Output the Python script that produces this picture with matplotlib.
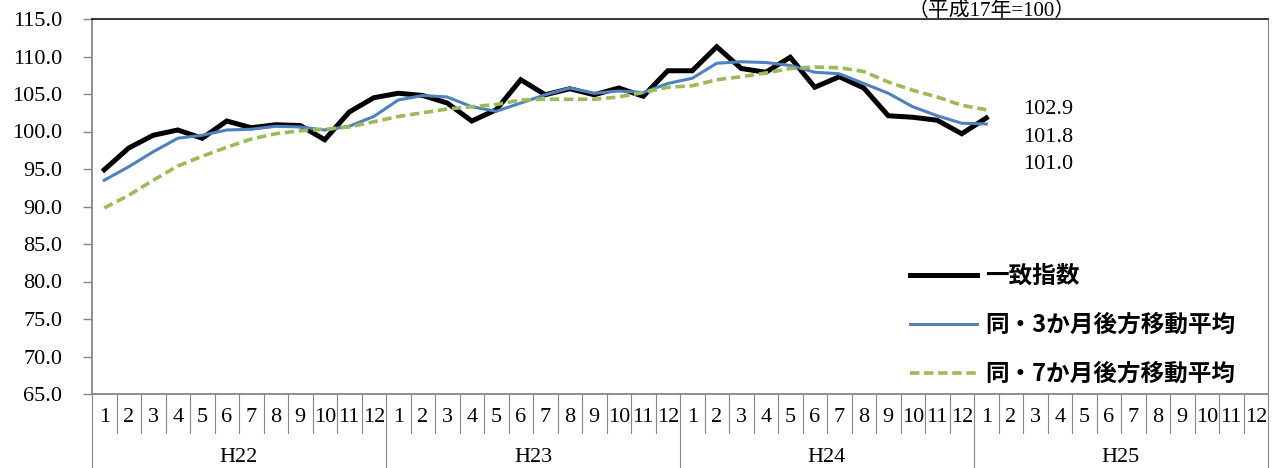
import matplotlib
matplotlib.use("Agg")
import matplotlib.pyplot as plt
import matplotlib.transforms as mtransforms

plt.rcParams['font.family'] = ['Liberation Serif', 'Noto Sans CJK JP']

# data (H22.1 - H25.1)
years = ["H22", "H23", "H24", "H25"]
months = [str(m) for m in range(1, 13)]
coincident = [94.9, 97.8, 99.5, 100.2, 99.1, 101.4, 100.5, 100.9, 100.8, 98.9, 102.6, 104.5,
              105.1, 104.8, 103.8, 101.4, 102.9, 106.9, 104.9, 105.7, 104.9, 105.8, 104.7, 108.1,
              108.1, 111.3, 108.4, 107.9, 109.9, 105.9, 107.3, 105.8, 102.1, 101.9, 101.5, 99.7,
              101.8]
ma3 = [93.5, 95.3, 97.3, 99.1, 99.5, 100.2, 100.3, 100.7, 100.6, 100.2, 100.7, 102.0,
       104.2, 104.8, 104.6, 103.3, 102.7, 103.8, 104.9, 105.8, 105.1, 105.4, 105.2, 106.4,
       107.1, 109.1, 109.3, 109.2, 108.8, 107.9, 107.7, 106.4, 105.1, 103.3, 102.1, 101.1,
       101.0]
ma7 = [89.8, 91.5, 93.5, 95.4, 96.7, 97.9, 99.0, 99.7, 100.1, 100.3, 100.6, 101.3,
       102.0, 102.5, 103.0, 103.3, 103.6, 104.2, 104.3, 104.3, 104.3, 104.6, 105.2, 105.9,
       106.1, 106.9, 107.3, 107.8, 108.4, 108.6, 108.5, 108.0, 106.6, 105.5, 104.6, 103.5,
       102.9]
labels = ["一致指数", "同・3か月後方移動平均", "同・7か月後方移動平均"]

W, H = 1273, 468
fig = plt.figure(figsize=(W / 100, H / 100), dpi=100)
ax = fig.add_axes([92 / W, (H - 394) / H, (1268 - 92) / W, 375 / H])

ncat = len(years) * len(months)
x = [i + 0.5 for i in range(len(coincident))]

l1, = ax.plot(x, coincident, color='black', lw=3.6, solid_joinstyle='miter', label=labels[0])
l2, = ax.plot(x, ma3, color='#4F81BD', lw=2.2, label=labels[1])
l3, = ax.plot(x, ma7, color='#9BBB59', lw=2.6, dashes=(2.6, 1.3), label=labels[2])

ax.set_xlim(0, ncat)
ax.set_ylim(65, 115)
ax.set_yticks([65 + 5 * k for k in range(11)])
ax.set_yticklabels(["%.1f" % (65 + 5 * k) for k in range(11)], fontsize=16)
ax.tick_params(axis='y', direction='out', length=6.5, width=1, color='#868686', pad=15)
ax.set_xticks([])

gray = '#868686'
ax.spines['left'].set_color(gray)
ax.spines['left'].set_linewidth(1.3)
ax.spines['bottom'].set_color(gray)
ax.spines['bottom'].set_linewidth(1.3)
ax.spines['right'].set_color(gray)
ax.spines['right'].set_linewidth(0.8)
ax.spines['top'].set_color('black')
ax.spines['top'].set_linewidth(1.1)

# category axis: month labels + separators, year labels + separators
trans = mtransforms.blended_transform_factory(ax.transData, ax.transAxes)
for i in range(ncat):
    ax.text(i + 0.5, -0.064, months[i % 12], transform=trans, ha='center', va='center',
            fontsize=16)
    if i > 0:
        bottom = -0.197 if i % 12 == 0 else -0.103
        ax.plot([i, i], [0, bottom], transform=trans, color=gray, lw=0.8, clip_on=False)
for j, yr in enumerate(years):
    ax.text(j * 12 + 6, -0.168, yr, transform=trans, ha='center', va='center', fontsize=16)
ax.plot([0, 0], [0, -0.197], transform=trans, color=gray, lw=0.8, clip_on=False)
ax.plot([ncat, ncat], [0, -0.197], transform=trans, color=gray, lw=0.8, clip_on=False)

# last values
last_vals = [ma7[-1], coincident[-1], ma3[-1]]
label_y = [102.9, 99.15, 95.55]
for v, yy in zip(last_vals, label_y):
    ax.text(38.0, yy, "%.1f" % v, ha='left', va='center', fontsize=16)

ax.legend(handles=[l1, l2, l3], loc='center left', bbox_to_anchor=(910 / W, (H - 325) / H),
          bbox_transform=fig.transFigure, frameon=False, borderpad=0, borderaxespad=0,
          handlelength=2.84, handletextpad=0.34, labelspacing=1.05,
          prop={'family': 'Noto Sans CJK JP', 'size': 17, 'weight': 'bold'})

fig.text(992 / W, (H - 16) / H, "（平成17年=100）", ha='center', va='baseline', fontsize=15)

fig.savefig("out.png", dpi=100)
